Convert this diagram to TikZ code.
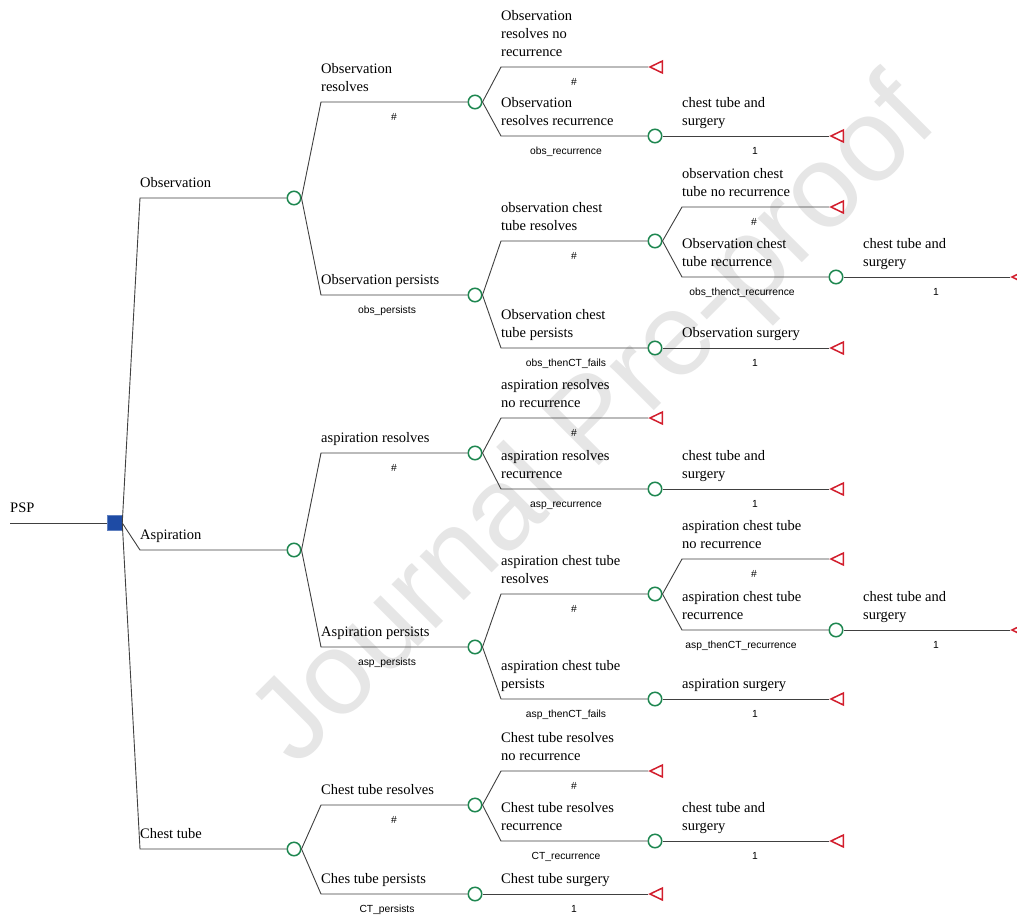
\documentclass[tikz,border=0pt]{standalone}
\usepackage{fontspec}
\setmainfont{Liberation Serif}
\setsansfont{Liberation Sans}
\usetikzlibrary{shapes.geometric}
\definecolor{linegray}{RGB}{64,64,64}
\definecolor{chgreen}{RGB}{30,135,80}
\definecolor{tred}{RGB}{210,30,45}
\definecolor{decblue}{RGB}{30,75,165}
\definecolor{wmgray}{RGB}{230,230,230}
\tikzset{
  br/.style={draw=linegray, line width=0.9pt},
  chn/.style={circle, draw=chgreen, line width=1.5pt, fill=white, minimum size=13.5pt, inner sep=0pt},
  trm/.style={isosceles triangle, isosceles triangle stretches, shape border rotate=180, draw=tred, line width=1.5pt, fill=white, inner sep=0pt, minimum height=12.5pt, minimum width=12pt, anchor=apex},
  dec/.style={rectangle, fill=decblue, draw=decblue!70!white, line width=0.5pt, minimum size=15pt, inner sep=0pt},
  lbl/.style={anchor=base west, inner sep=0pt, align=left, font=\fontsize{14.5}{18}\selectfont},
  prb/.style={anchor=base, inner sep=0pt, font=\sffamily\fontsize{10.3}{12}\selectfont}
}
\begin{document}
\begin{tikzpicture}[x=1pt,y=-1pt]
\clip (0,0) rectangle (1017,916);
\fill[white] (0,0) rectangle (1017,916);
% watermark
\node[text=wmgray, rotate=45, font=\sffamily\fontsize{118}{118}\selectfont, inner sep=0pt] (wm) at (597,425) {Journal Pre-proof};

% decision node
\coordinate (root) at (10,523);
\node[dec] (D) at (114.5,523) {};
% chance nodes
\node[chn] (cO) at (294,198) {};
\node[chn] (cA) at (294,550) {};
\node[chn] (cC) at (294,849) {};
\node[chn] (cOR) at (475,102) {};
\node[chn] (cOP) at (475,295) {};
\node[chn] (cORR) at (655,136) {};
\node[chn] (cOCR) at (655,241) {};
\node[chn] (cOCP) at (655,348) {};
\node[chn] (cOCRR) at (836,277) {};
\node[chn] (cAR) at (475,453) {};
\node[chn] (cAP) at (475,647) {};
\node[chn] (cARR) at (655,489) {};
\node[chn] (cACR) at (655,594) {};
\node[chn] (cACP) at (655,699) {};
\node[chn] (cACRR) at (836,630) {};
\node[chn] (cCR) at (475,805) {};
\node[chn] (cCP) at (475,894) {};
\node[chn] (cCRR) at (655,841) {};
% terminal nodes
\node[trm] (tORN) at (648,67) {};
\node[trm] (tORR) at (829,136) {};
\node[trm] (tOCRN) at (829,207) {};
\node[trm] (tOCRR) at (1010,277) {};
\node[trm] (tOCP) at (829,348) {};
\node[trm] (tARN) at (648,418) {};
\node[trm] (tARR) at (829,489) {};
\node[trm] (tACRN) at (829,559) {};
\node[trm] (tACRR) at (1010,630) {};
\node[trm] (tACP) at (829,699) {};
\node[trm] (tCRN) at (648,771) {};
\node[trm] (tCRR) at (829,841) {};
\node[trm] (tCP) at (648,894) {};

% bend coordinates
\coordinate (bO) at (140,198);
\coordinate (bA) at (140,550);
\coordinate (bC) at (140,849);
\coordinate (bOR) at (321,102);
\coordinate (bOP) at (321,295);
\coordinate (bAR) at (321,453);
\coordinate (bAP) at (321,647);
\coordinate (bCR) at (321,805);
\coordinate (bCP) at (321,894);
\coordinate (bORN) at (501,67);
\coordinate (bORR) at (501,136);
\coordinate (bOCR) at (501,241);
\coordinate (bOCP) at (501,348);
\coordinate (bARN) at (501,418);
\coordinate (bARR) at (501,489);
\coordinate (bACR) at (501,594);
\coordinate (bACP) at (501,699);
\coordinate (bCRN) at (501,771);
\coordinate (bCRR) at (501,841);
\coordinate (bOCRN) at (682,207);
\coordinate (bOCRR) at (682,277);
\coordinate (bACRN) at (682,559);
\coordinate (bACRR) at (682,630);

% connectors
\draw[br] (root) -- (D.west);
\draw[br] (D.east) -- (bO) -- (cO.west);
\draw[br] (D.east) -- (bA) -- (cA.west);
\draw[br] (D.east) -- (bC) -- (cC.west);
\draw[br] (cO.east) -- (bOR) -- (cOR.west);
\draw[br] (cO.east) -- (bOP) -- (cOP.west);
\draw[br] (cOR.east) -- (bORN) -- (tORN.apex);
\draw[br] (cOR.east) -- (bORR) -- (cORR.west);
\draw[br] (cORR.east) -- (tORR.apex);
\draw[br] (cOP.east) -- (bOCR) -- (cOCR.west);
\draw[br] (cOP.east) -- (bOCP) -- (cOCP.west);
\draw[br] (cOCR.east) -- (bOCRN) -- (tOCRN.apex);
\draw[br] (cOCR.east) -- (bOCRR) -- (cOCRR.west);
\draw[br] (cOCRR.east) -- (tOCRR.apex);
\draw[br] (cOCP.east) -- (tOCP.apex);
\draw[br] (cA.east) -- (bAR) -- (cAR.west);
\draw[br] (cA.east) -- (bAP) -- (cAP.west);
\draw[br] (cAR.east) -- (bARN) -- (tARN.apex);
\draw[br] (cAR.east) -- (bARR) -- (cARR.west);
\draw[br] (cARR.east) -- (tARR.apex);
\draw[br] (cAP.east) -- (bACR) -- (cACR.west);
\draw[br] (cAP.east) -- (bACP) -- (cACP.west);
\draw[br] (cACR.east) -- (bACRN) -- (tACRN.apex);
\draw[br] (cACR.east) -- (bACRR) -- (cACRR.west);
\draw[br] (cACRR.east) -- (tACRR.apex);
\draw[br] (cACP.east) -- (tACP.apex);
\draw[br] (cC.east) -- (bCR) -- (cCR.west);
\draw[br] (cC.east) -- (bCP) -- (cCP.west);
\draw[br] (cCR.east) -- (bCRN) -- (tCRN.apex);
\draw[br] (cCR.east) -- (bCRR) -- (cCRR.west);
\draw[br] (cCRR.east) -- (tCRR.apex);
\draw[br] (cCP.east) -- (tCP.apex);

% branch labels (base of last line 11 above the branch line)
\node[lbl] (lPSP) at (10,512) {PSP};
\node[lbl] (lO) at (140,187) {Observation};
\node[lbl] (lA) at (140,539) {Aspiration};
\node[lbl] (lC) at (140,838) {Chest tube};
\node[lbl] (lOR) at (321,91) {Observation\\resolves};
\node[lbl] (lOP) at (321,284) {Observation persists};
\node[lbl] (lAR) at (321,442) {aspiration resolves};
\node[lbl] (lAP) at (321,636) {Aspiration persists};
\node[lbl] (lCR) at (321,794) {Chest tube resolves};
\node[lbl] (lCP) at (321,883) {Ches tube persists};
\node[lbl] (lORN) at (501,56) {Observation\\resolves no\\recurrence};
\node[lbl] (lORR) at (501,125) {Observation\\resolves recurrence};
\node[lbl] (lOCR) at (501,230) {observation chest\\tube resolves};
\node[lbl] (lOCP) at (501,337) {Observation chest\\tube persists};
\node[lbl] (lARN) at (501,407) {aspiration resolves\\no recurrence};
\node[lbl] (lARR) at (501,478) {aspiration resolves\\recurrence};
\node[lbl] (lACR) at (501,583) {aspiration chest tube\\resolves};
\node[lbl] (lACP) at (501,688) {aspiration chest tube\\persists};
\node[lbl] (lCRN) at (501,760) {Chest tube resolves\\no recurrence};
\node[lbl] (lCRR) at (501,830) {Chest tube resolves\\recurrence};
\node[lbl] (lCPS) at (501,883) {Chest tube surgery};
\node[lbl] (lORRs) at (682,125) {chest tube and\\surgery};
\node[lbl] (lOCRN) at (682,196) {observation chest\\tube no recurrence};
\node[lbl] (lOCRR) at (682,266) {Observation chest\\tube recurrence};
\node[lbl] (lOCPs) at (682,337) {Observation surgery};
\node[lbl] (lARRs) at (682,478) {chest tube and\\surgery};
\node[lbl] (lACRN) at (682,548) {aspiration chest tube\\no recurrence};
\node[lbl] (lACRR) at (682,619) {aspiration chest tube\\recurrence};
\node[lbl] (lACPs) at (682,688) {aspiration surgery};
\node[lbl] (lCRRs) at (682,830) {chest tube and\\surgery};
\node[lbl] (lOCRRs) at (863,266) {chest tube and\\surgery};
\node[lbl] (lACRRs) at (863,619) {chest tube and\\surgery};

% probability labels
\node[prb] (pOR) at (394,120) {\#};
\node[prb] (pOP) at (387,313) {obs\_persists};
\node[prb] (pORN) at (574,85) {\#};
\node[prb] (pORR) at (566,154) {obs\_recurrence};
\node[prb] (pORRs) at (755,154) {1};
\node[prb] (pOCR) at (574,259) {\#};
\node[prb] (pOCP) at (566,366) {obs\_thenCT\_fails};
\node[prb] (pOCRN) at (754,225) {\#};
\node[prb] (pOCRR) at (742,295) {obs\_thenct\_recurrence};
\node[prb] (pOCRRs) at (936,295) {1};
\node[prb] (pOCPs) at (755,366) {1};
\node[prb] (pAR) at (394,471) {\#};
\node[prb] (pAP) at (387,665) {asp\_persists};
\node[prb] (pARN) at (574,436) {\#};
\node[prb] (pARR) at (566,507) {asp\_recurrence};
\node[prb] (pARRs) at (755,507) {1};
\node[prb] (pACR) at (574,612) {\#};
\node[prb] (pACP) at (566,717) {asp\_thenCT\_fails};
\node[prb] (pACRN) at (754,577) {\#};
\node[prb] (pACRR) at (741,648) {asp\_thenCT\_recurrence};
\node[prb] (pACRRs) at (936,648) {1};
\node[prb] (pACPs) at (755,717) {1};
\node[prb] (pCR) at (394,823) {\#};
\node[prb] (pCP) at (387,912) {CT\_persists};
\node[prb] (pCRN) at (574,789) {\#};
\node[prb] (pCRR) at (566,859) {CT\_recurrence};
\node[prb] (pCRRs) at (755,859) {1};
\node[prb] (pCPs) at (574,912) {1};
\end{tikzpicture}
\end{document}
